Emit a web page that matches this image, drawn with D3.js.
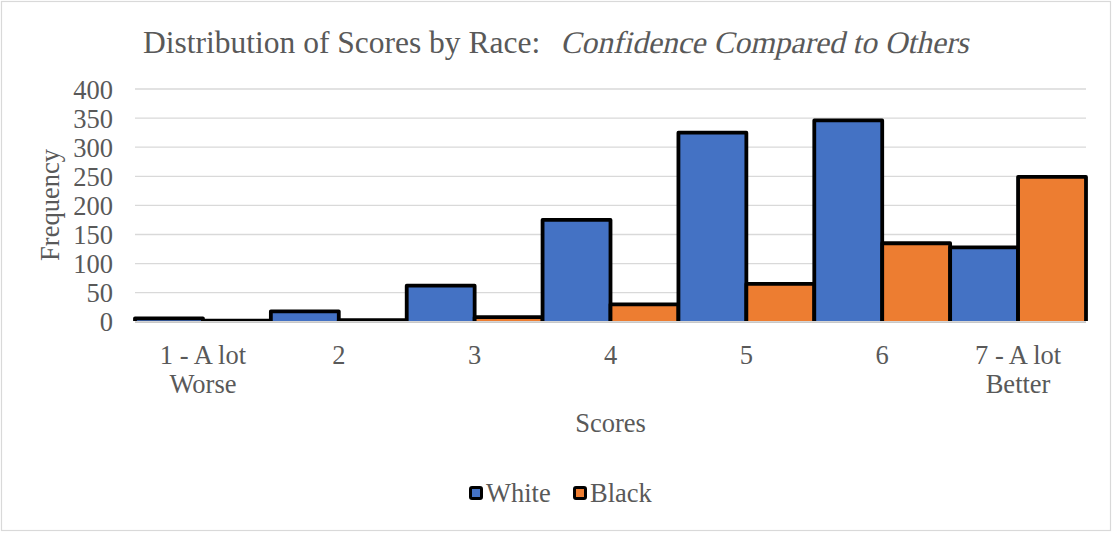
<!DOCTYPE html>
<html>
<head>
<meta charset="utf-8">
<script src="https://cdn.jsdelivr.net/npm/d3@7"></script>
<style>
  html, body { margin: 0; padding: 0; background: #fff; }
  svg { display: block; font-family: "Liberation Serif", "Times New Roman", serif; }
</style>
</head>
<body>
<svg id="chart" width="1113" height="533"></svg>
<script>
// Score categories (two-line labels split on "\n")
const categories = ["1 - A lot\nWorse", "2", "3", "4", "5", "6", "7 - A lot\nBetter"];
const seriesNames = ["White", "Black"];
const whiteValues = [6, 18, 62, 175, 325, 346, 128];
const blackValues = [2, 3, 8, 30, 65, 135, 249];
const yTicks = [0, 50, 100, 150, 200, 250, 300, 350, 400];

const colors = { White: "#4472C4", Black: "#ED7D31" };
const textColor = "#595959";
const serif = "Liberation Serif, Times New Roman, serif";

const W = 1113, H = 533;
const plot = { left: 135, right: 1086, top: 89, bottom: 321.8 };

const svg = d3.select("#chart");

// outer chart frame
svg.append("rect")
  .attr("x", 1.5).attr("y", 1.5)
  .attr("width", W - 4).attr("height", H - 4)
  .attr("fill", "#fff").attr("stroke", "#d9d9d9").attr("stroke-width", 1.2);

// title: upright lead-in followed by a slanted subject
const titleRoman = svg.append("text")
  .attr("x", 143).attr("y", 52.5)
  .attr("font-size", 31.5)
  .attr("font-family", serif)
  .attr("fill", textColor)
  .text("Distribution of Scores by Race:");
const romanEnd = 143 + titleRoman.node().getComputedTextLength();
svg.append("text")
  .attr("transform", `translate(${romanEnd + 20},52.5) skewX(-13)`)
  .attr("font-size", 31.5)
  .attr("font-family", serif)
  .attr("fill", textColor)
  .text("Confidence Compared to Others");

const rows = categories.map((c, i) => ({ cat: c, White: whiteValues[i], Black: blackValues[i] }));

const x0 = d3.scaleBand().domain(categories).range([plot.left, plot.right]).paddingInner(0).paddingOuter(0);
const x1 = d3.scaleBand().domain(seriesNames).range([0, x0.bandwidth()]).padding(0);
const y = d3.scaleLinear().domain([0, 400]).range([plot.bottom, plot.top]);

// gridlines
svg.append("g")
  .selectAll("line")
  .data(yTicks.filter(t => t > 0))
  .join("line")
  .attr("x1", plot.left).attr("x2", plot.right)
  .attr("y1", d => y(d)).attr("y2", d => y(d))
  .attr("stroke", "#d9d9d9").attr("stroke-width", 1.3);

// y axis labels
const yAxis = d3.axisLeft(y).tickValues(yTicks).tickSize(0).tickPadding(0);
const gy = svg.append("g").attr("transform", `translate(113,0)`).call(yAxis)
  .attr("font-family", serif);
gy.select(".domain").remove();
gy.selectAll("text")
  .attr("font-size", 26.5)
  .attr("fill", textColor)
  .attr("dy", "0.34em");

// bars, clipped just above the category axis line
svg.append("clipPath").attr("id", "plotClip")
  .append("rect")
  .attr("x", 0).attr("y", 0)
  .attr("width", W).attr("height", plot.bottom - 0.8);

const groups = svg.append("g").attr("clip-path", "url(#plotClip)")
  .selectAll("g")
  .data(rows)
  .join("g")
  .attr("transform", d => `translate(${x0(d.cat)},0)`);

groups.selectAll("rect")
  .data(d => seriesNames.map(s => ({ s, v: d[s] })))
  .join("rect")
  .attr("x", d => x1(d.s))
  .attr("width", x1.bandwidth())
  .attr("y", d => y(d.v))
  .attr("height", d => y(0) - y(d.v) + 4)
  .attr("fill", d => colors[d.s])
  .attr("stroke", "#000")
  .attr("stroke-width", 3.8)
  .attr("stroke-linejoin", "round");

// category axis line
svg.append("line")
  .attr("x1", plot.left).attr("x2", plot.right)
  .attr("y1", plot.bottom + 0.4).attr("y2", plot.bottom + 0.4)
  .attr("stroke", "#c8c8c8").attr("stroke-width", 1.8);

// category labels
const xAxis = d3.axisBottom(x0).tickSize(0).tickPadding(0).tickFormat(() => "");
const gx = svg.append("g").attr("transform", `translate(0,${plot.bottom})`).call(xAxis)
  .attr("font-family", serif);
gx.select(".domain").remove();
gx.selectAll(".tick text").remove();
gx.selectAll(".tick").append("text")
  .attr("text-anchor", "middle")
  .attr("font-size", 26.5)
  .attr("fill", textColor)
  .each(function(d) {
    const lines = d.split("\n");
    d3.select(this).selectAll("tspan")
      .data(lines)
      .join("tspan")
      .attr("x", 0)
      .attr("y", (l, i) => 42 + i * 29)
      .text(l => l);
  });

// axis titles
svg.append("text")
  .attr("x", (plot.left + plot.right) / 2).attr("y", 432)
  .attr("text-anchor", "middle")
  .attr("font-size", 26.5)
  .attr("fill", textColor)
  .text("Scores");

svg.append("text")
  .attr("transform", `translate(59,205) rotate(-90)`)
  .attr("text-anchor", "middle")
  .attr("font-size", 26.5)
  .attr("fill", textColor)
  .text("Frequency");

// legend
const legendItems = [
  { name: "White", x: 469 },
  { name: "Black", x: 573 }
];
const lg = svg.append("g").selectAll("g").data(legendItems).join("g")
  .attr("transform", d => `translate(${d.x},486)`);
lg.append("rect")
  .attr("x", 1.5).attr("y", 1.5)
  .attr("width", 11).attr("height", 11)
  .attr("rx", 1.5)
  .attr("fill", d => colors[d.name])
  .attr("stroke", "#000").attr("stroke-width", 3);
lg.append("text")
  .attr("x", 17).attr("y", 16)
  .attr("font-size", 26.5)
  .attr("fill", textColor)
  .text(d => d.name);
</script>
</body>
</html>
